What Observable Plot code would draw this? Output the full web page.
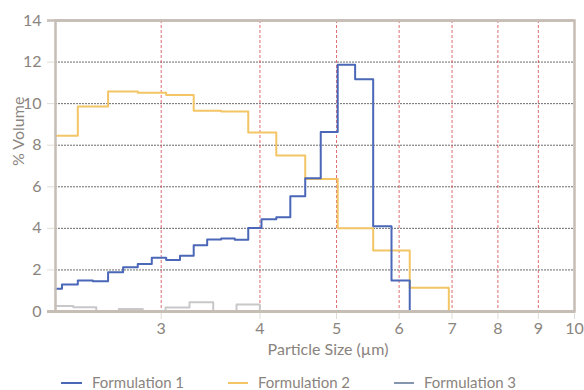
<!DOCTYPE html>
<html><head><meta charset="utf-8">
<script src="https://cdn.jsdelivr.net/npm/d3@7"></script>
<script src="https://cdn.jsdelivr.net/npm/@observablehq/plot@0.6"></script>
<style>
body{margin:0;background:#fff;font-family:Lato,"Open Sans",sans-serif;}
#wrap{position:relative;width:584px;height:390px;overflow:hidden;background:#fff}
#chart{position:absolute;left:0;top:0}
.li{position:absolute;top:372px;height:20px;line-height:20px;font-size:15px;color:#8a847e;white-space:nowrap}
.sw{position:absolute;top:382px;height:2px}
</style></head>
<body><div id="wrap"><div id="chart"></div></div>
<script>
// Particle size bin edges (µm) and % volume per bin
const edges1 = [2.205, 2.247, 2.353, 2.458, 2.570, 2.685, 2.802, 2.919, 3.044, 3.169, 3.298, 3.430, 3.573, 3.717, 3.866, 4.018, 4.195, 4.370, 4.564, 4.775, 5.017, 5.278, 5.563, 5.868, 6.188];
const formulation1 = [1.09, 1.30, 1.49, 1.46, 1.89, 2.13, 2.29, 2.58, 2.48, 2.68, 3.19, 3.46, 3.51, 3.45, 4.02, 4.44, 4.53, 5.54, 6.41, 8.64, 11.87, 11.17, 4.10, 1.49];
const edges2 = [2.205, 2.353, 2.570, 2.802, 3.044, 3.298, 3.573, 3.866, 4.195, 4.564, 5.017, 5.563, 6.188, 6.934];
const formulation2 = [8.45, 9.86, 10.58, 10.53, 10.42, 9.66, 9.62, 8.61, 7.50, 6.38, 4.00, 2.93, 1.14];
const edges3 = [2.205, 2.322, 2.483, 2.652, 2.843, 3.038, 3.258, 3.491, 3.736, 3.998];
const formulation3 = [0.26, 0.21, 0, 0.12, 0, 0.19, 0.44, 0, 0.34];
const xTicks = [3, 4, 5, 6, 7, 8, 9, 10];
const yTicks = [0, 2, 4, 6, 8, 10, 12, 14];
const seriesNames = ["Formulation 1", "Formulation 2", "Formulation 3"];
const lineColors = ["#4a67b8", "#f3c565", "#c8c8c8"];
const legendColors = ["#4a67b8", "#f3c565", "#8496ae"];

const toPts = (edges, vals) => edges.map((e, i) => ({x: e, y: i < vals.length ? vals[i] : 0}));
const s1 = toPts(edges1, formulation1);
const s2 = toPts(edges2, formulation2);
const s3 = toPts(edges3, formulation3);

const textColor = "#8a847e";
const frameColor = "#c6bdb5";

const chart = Plot.plot({
  width: 584,
  height: 366,
  marginLeft: 55,
  marginRight: 10,
  marginTop: 20,
  marginBottom: 55,
  style: {fontFamily: "Lato, 'Open Sans', sans-serif", background: "white", color: textColor},
  x: {type: "log", domain: [2.205, 10], label: null},
  y: {domain: [0, 14], label: null},
  marks: [
    Plot.ruleY(yTicks.filter(d => d > 0 && d < 14), {stroke: "#3a3a3a", strokeWidth: 1, strokeDasharray: "2,1", strokeOpacity: 0.75}),
    Plot.ruleX(xTicks.filter(d => d < 10), {stroke: "#d4464c", strokeWidth: 1, strokeDasharray: "3,2", strokeOpacity: 0.8}),
    Plot.line(s3, {x: "x", y: "y", curve: "step-after", stroke: lineColors[2], strokeWidth: 2}),
    Plot.line(s2, {x: "x", y: "y", curve: "step-after", stroke: lineColors[1], strokeWidth: 2}),
    Plot.line(s1, {x: "x", y: "y", curve: "step-after", stroke: lineColors[0], strokeWidth: 2}),
    Plot.axisY({ticks: yTicks, tickSize: 8, tickFormat: () => "", color: "#e0dbd6", label: null}),
    Plot.axisY({ticks: yTicks, tickSize: 0, tickPadding: 14, fontSize: 16, color: textColor, label: null}),
    Plot.axisX({ticks: xTicks, tickSize: 8, tickFormat: () => "", color: "#e0dbd6", label: null}),
    Plot.axisX({ticks: xTicks, tickSize: 0, tickPadding: 11, fontSize: 16, color: textColor, tickFormat: d => String(d), label: null}),
    Plot.frame({stroke: frameColor, strokeWidth: 2.5}),
    Plot.ruleY([0], {stroke: frameColor, strokeWidth: 3, insetLeft: -8}),
    Plot.ruleY([14], {stroke: frameColor, strokeWidth: 2.5, insetLeft: -8}),
    Plot.text(["Particle Size (µm)"], {frameAnchor: "bottom", dy: 43, dx: 13, fontSize: 16, fill: textColor}),
    Plot.text(["% Volume"], {frameAnchor: "left", dx: -37, rotate: -90, fontSize: 16, fill: textColor})
  ]
});
document.getElementById("chart").appendChild(chart);

// legend
const wrap = document.getElementById("wrap");
const legendPos = [[61, 82, 92], [228, 248, 258], [394, 414, 424]];
seriesNames.forEach((name, i) => {
  const [x1, x2, tx] = legendPos[i];
  const sw = document.createElement("div");
  sw.className = "sw";
  sw.style.left = x1 + "px";
  sw.style.width = (x2 - x1) + "px";
  sw.style.background = legendColors[i];
  wrap.appendChild(sw);
  const t = document.createElement("div");
  t.className = "li";
  t.style.left = tx + "px";
  t.textContent = name;
  wrap.appendChild(t);
});
</script>
</body></html>
